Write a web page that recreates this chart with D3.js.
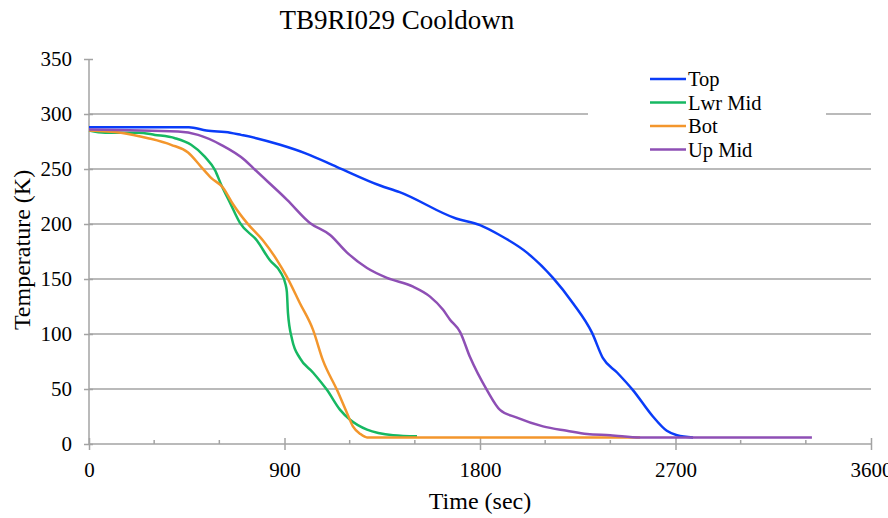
<!DOCTYPE html>
<html><head><meta charset="utf-8">
<script src="https://cdn.jsdelivr.net/npm/d3@7"></script>
<style>body{margin:0;background:#fff}svg{display:block}</style>
</head><body><svg id="c" width="888" height="518"></svg>
<script>
const seriesNames = ["Top","Lwr Mid","Bot","Up Mid"];
const seriesColors = ["#0a3cf8","#16b862","#f3962c","#8e4fb5"];
const topData = [[0,288],[460,288],[540,285],[650,283],[700,281],[770,278],[880,272],[1000,264],[1140,252],[1340,235],[1430,229],[1690,205],[1800,199],[1890,190],[2016,174],[2136,151],[2228,128],[2316,101],[2366,78],[2431,65],[2504,49],[2596,25],[2660,12],[2707,8],[2781,6]];
const lwrMidData = [[0,285],[74,283],[226,283],[304,281],[396,278],[470,272],[534,261],[580,249],[608,236],[650,219],[695,201],[773,185],[833,167],[879,157],[905,145],[911,138],[916,119],[935,95],[971,78],[1031,65],[1096,49],[1156,31],[1202,22],[1280,13],[1400,8],[1510,7]];
const botData = [[0,285],[147,283],[272,278],[378,272],[456,265],[516,252],[562,242],[617,233],[663,218],[727,201],[801,185],[866,167],[911,152],[971,128],[1031,104],[1077,76],[1142,49],[1188,28],[1215,16],[1250,9],[1280,6],[2537,6]];
const upMidData = [[0,286],[410,284],[502,281],[608,272],[718,258],[755,251],[912,222],[1017,201],[1110,190],[1188,174],[1280,160],[1372,151],[1492,143],[1570,134],[1630,122],[1662,113],[1708,102],[1754,79],[1832,49],[1892,31],[1970,24],[2090,16],[2200,12],[2293,9],[2400,8],[2537,6],[3328,6]];
const xTicks = [0,900,1800,2700,3600];
const xMinorTicks = [300,600,1200,1500,2100,2400,3000,3300];
const yTicks = [0,50,100,150,200,250,300,350];
const allData = [topData,lwrMidData,botData,upMidData];

const FONT = "'Liberation Serif', 'Times New Roman', Times, 'DejaVu Serif', serif";
const svg = d3.select("#c");
const x = d3.scaleLinear().domain([0,3600]).range([89,871]);
const y = d3.scaleLinear().domain([0,350]).range([444,59]);
const grid = "#a3a3a3";

svg.append("g").selectAll("line").data(yTicks.filter(d=>d>0 && d<350)).join("line")
  .attr("x1",x(0)).attr("x2",x(3600)).attr("y1",d=>y(d)).attr("y2",d=>y(d))
  .attr("stroke",grid).attr("stroke-width",1.5);

const yAxis = svg.append("g").attr("transform",`translate(${x(0)},0)`)
  .call(d3.axisLeft(y).tickValues(yTicks).tickSize(5).tickFormat(d3.format("d")));
yAxis.attr("font-family",FONT).attr("font-size",21);
yAxis.selectAll("line").attr("stroke",grid).attr("stroke-width",1.5).attr("x2",-5).attr("x1",4);
yAxis.select(".domain").attr("stroke",grid).attr("stroke-width",1.5).attr("d",`M0,${y(350)}V${y(0)}`);
yAxis.selectAll("text").attr("x",-17).style("font-family",FONT).attr("fill","#000");

const xAxis = svg.append("g").attr("transform",`translate(0,${y(0)})`)
  .call(d3.axisBottom(x).tickValues(xTicks).tickSize(6).tickPadding(12).tickFormat(d3.format("d")));
xAxis.attr("font-family",FONT).attr("font-size",21);
xAxis.selectAll("line").attr("stroke",grid).attr("stroke-width",1.5).attr("y1",-6).attr("y2",6);
xAxis.select(".domain").attr("stroke",grid).attr("stroke-width",1.5).attr("d",`M${x(0)},0H${x(3600)}`);
xAxis.selectAll("text").style("font-family",FONT).attr("fill","#000");
svg.append("g").selectAll("line").data(xMinorTicks).join("line")
  .attr("x1",d=>x(d)).attr("x2",d=>x(d)).attr("y1",y(0)-4).attr("y2",y(0))
  .attr("stroke",grid).attr("stroke-width",1.5);

const line = d3.line().x(d=>x(d[0])).y(d=>y(d[1])).curve(d3.curveMonotoneX);
svg.append("g").selectAll("path").data(allData).join("path")
  .attr("d",line).attr("fill","none")
  .attr("stroke",(d,i)=>seriesColors[i]).attr("stroke-width",2.5)
  .attr("stroke-linejoin","round");

svg.append("rect").attr("x",588).attr("y",63).attr("width",238).attr("height",100).attr("fill","#fff");
const lg = svg.append("g").selectAll("g").data(seriesNames).join("g")
  .attr("transform",(d,i)=>`translate(650,${79+i*23.5})`);
lg.append("line").attr("x1",0).attr("x2",36).attr("stroke",(d,i)=>seriesColors[i]).attr("stroke-width",2.5);
lg.append("text").attr("x",38).attr("dy","0.35em").attr("font-size",20.5).style("font-family",FONT).text(d=>d);

svg.append("text").attr("x",397).attr("y",29).attr("text-anchor","middle").attr("font-size",27).style("font-family",FONT).text("TB9RI029 Cooldown");
svg.append("text").attr("x",480).attr("y",509).attr("text-anchor","middle").attr("font-size",24).style("font-family",FONT).text("Time (sec)");
svg.append("text").attr("transform","translate(30,250) rotate(-90)").attr("text-anchor","middle").attr("font-size",24).style("font-family",FONT).text("Temperature (K)");
</script></body></html>
